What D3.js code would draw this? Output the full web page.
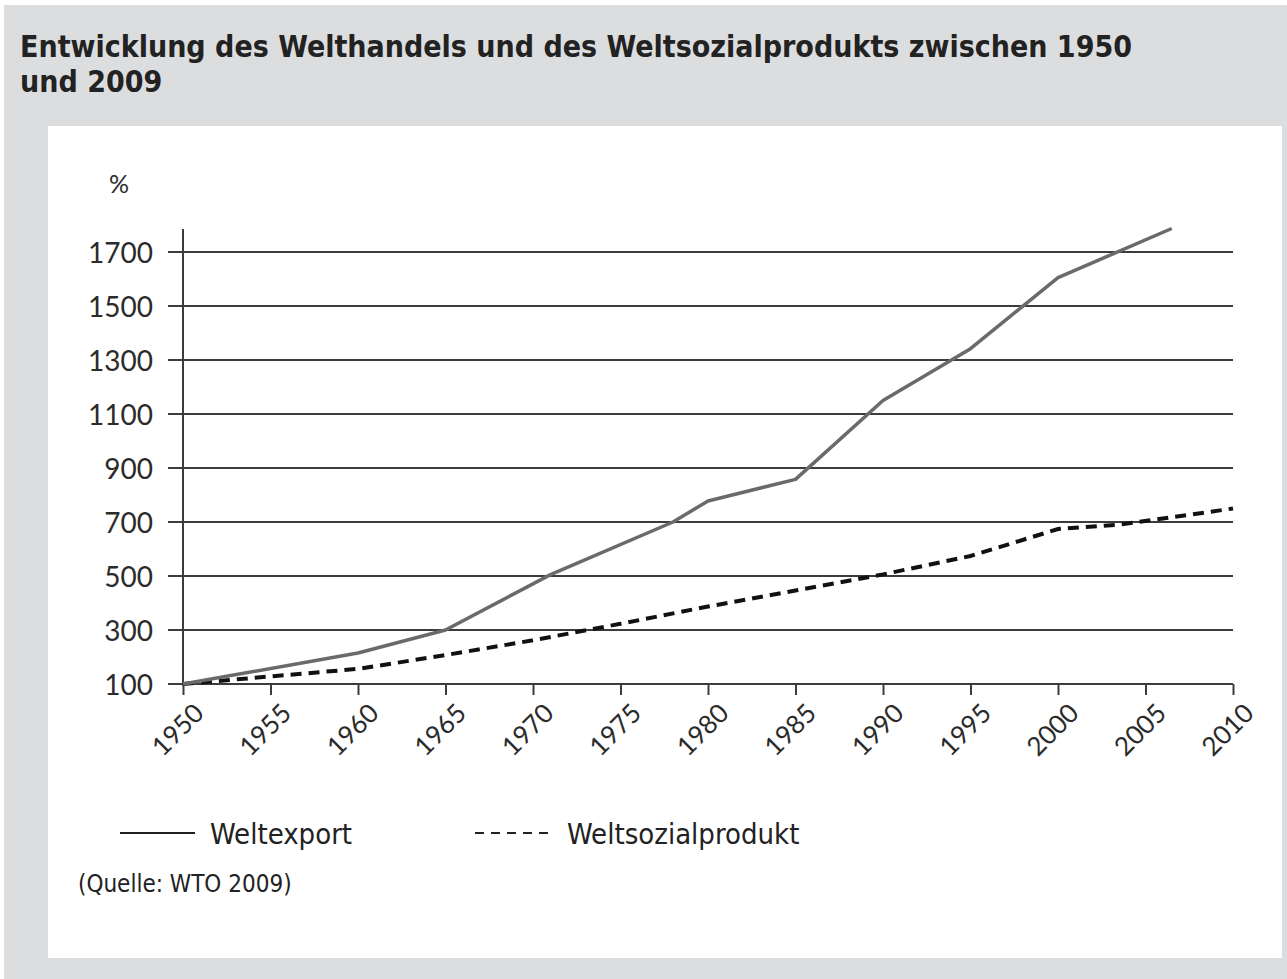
<!DOCTYPE html>
<html>
<head>
<meta charset="utf-8">
<script src="https://cdn.jsdelivr.net/npm/d3@7"></script>
<style>
  body { margin: 0; background: #fff; }
  svg { display: block; }
</style>
</head>
<body>
<svg id="chart"></svg>
<script>
// data
const exportYears  = [1950, 1960, 1965, 1971, 1978, 1980, 1985, 1990, 1995, 2000, 2006.5];
const exportValues = [100, 215, 300, 505, 700, 778, 858, 1150, 1342, 1605, 1787];

const gdpYears  = [1950, 1960, 1965, 1970, 1975, 1980, 1985, 1990, 1995, 2000, 2003.5, 2010];
const gdpValues = [100, 156, 207, 262, 323, 387, 446, 506, 574, 674, 690, 750];

const yTicks = [100, 300, 500, 700, 900, 1100, 1300, 1500, 1700];
const xTicks = [1950, 1955, 1960, 1965, 1970, 1975, 1980, 1985, 1990, 1995, 2000, 2005, 2010];

const titleLines = ["Entwicklung des Welthandels und des Weltsozialprodukts zwischen 1950", "und 2009"];
const seriesNames = ["Weltexport", "Weltsozialprodukt"];
const source = "(Quelle: WTO 2009)";

const width = 1287, height = 979;
const condensed = "'DejaVu Sans Condensed', 'DejaVu Sans', sans-serif";
const numFont = "Lato, 'Open Sans', sans-serif";

const svg = d3.select("#chart")
    .attr("width", width)
    .attr("height", height);

// grey outer panel + white chart panel
svg.append("rect").attr("x", 4).attr("y", 5).attr("width", width - 4).attr("height", height - 5)
    .attr("fill", "#dcdddf");
svg.append("rect").attr("x", 48).attr("y", 126).attr("width", 1234).attr("height", 832)
    .attr("fill", "#fff");

// title
svg.append("g").selectAll("text")
    .data(titleLines)
    .join("text")
    .attr("x", 20)
    .attr("y", (d, i) => 57 + i * 35)
    .attr("font-family", condensed)
    .attr("font-weight", "bold")
    .attr("font-size", 30)
    .attr("fill", "#222")
    .text(d => d);

const x = d3.scaleLinear().domain([1950, 2010]).range([183, 1233]);
const y = d3.scaleLinear().domain([100, 1700]).range([684, 252]);

// gridlines (they also poke out left of the axis as ticks)
svg.append("g")
    .selectAll("line")
    .data(yTicks)
    .join("line")
    .attr("x1", x(1950) - 15)
    .attr("x2", x(2010))
    .attr("y1", d => y(d))
    .attr("y2", d => y(d))
    .attr("stroke", "#3c3c3c")
    .attr("stroke-width", 2);

// y axis
const yAxis = d3.axisLeft(y).tickValues(yTicks).tickSize(0).tickPadding(30).tickFormat(d3.format("d"));
const gy = svg.append("g").attr("transform", `translate(${x(1950)},0)`).call(yAxis);
gy.select(".domain").remove();
gy.selectAll("text")
    .attr("font-family", numFont)
    .attr("font-size", 28)
    .attr("fill", "#2b2b2b")
    .attr("dy", "0.36em");

svg.append("line")
    .attr("x1", x(1950)).attr("x2", x(1950))
    .attr("y1", y(100) + 2).attr("y2", y(1785))
    .attr("stroke", "#3c3c3c").attr("stroke-width", 2);

svg.append("text")
    .attr("x", 109).attr("y", 193)
    .attr("font-family", numFont)
    .attr("font-size", 25)
    .attr("fill", "#2b2b2b")
    .text("%");

// x axis
const xAxis = d3.axisBottom(x).tickValues(xTicks).tickSize(11).tickFormat(d3.format("d"));
const gx = svg.append("g").attr("transform", `translate(0,${y(100)})`).call(xAxis);
gx.select(".domain").remove();
gx.selectAll(".tick line").attr("stroke", "#3c3c3c").attr("stroke-width", 2);
gx.selectAll("text")
    .attr("font-family", numFont)
    .attr("font-size", 26)
    .attr("fill", "#2b2b2b")
    .attr("text-anchor", "end")
    .attr("transform", "translate(9,18) rotate(-45)")
    .attr("dy", "0.7em")
    .attr("y", 0);

// lines
const lineGen = d3.line().x(d => x(d[0])).y(d => y(d[1]));

const exportData = exportYears.map((yr, i) => [yr, exportValues[i]]);
const gdpData = gdpYears.map((yr, i) => [yr, gdpValues[i]]);

svg.append("path")
    .datum(gdpData)
    .attr("d", lineGen)
    .attr("fill", "none")
    .attr("stroke", "#111")
    .attr("stroke-width", 4)
    .attr("stroke-dasharray", "11,7");

svg.append("path")
    .datum(exportData)
    .attr("d", lineGen)
    .attr("fill", "none")
    .attr("stroke", "#6a6a6a")
    .attr("stroke-width", 3.5)
    .attr("stroke-linejoin", "round");

// legend
const legend = svg.append("g");
const legendItems = [
    {name: seriesNames[0], x1: 120, x2: 195, tx: 210, dash: null},
    {name: seriesNames[1], x1: 475, x2: 555, tx: 567, dash: "9,7"}
];
legendItems.forEach(it => {
    legend.append("line")
        .attr("x1", it.x1).attr("x2", it.x2)
        .attr("y1", 833).attr("y2", 833)
        .attr("stroke", "#222")
        .attr("stroke-width", 2)
        .attr("stroke-dasharray", it.dash);
    legend.append("text")
        .attr("x", it.tx).attr("y", 844)
        .attr("font-family", condensed)
        .attr("font-size", 29)
        .attr("fill", "#222")
        .text(it.name);
});

svg.append("text")
    .attr("x", 78).attr("y", 892)
    .attr("font-family", condensed)
    .attr("font-size", 24)
    .attr("fill", "#222")
    .text(source);
</script>
</body>
</html>
